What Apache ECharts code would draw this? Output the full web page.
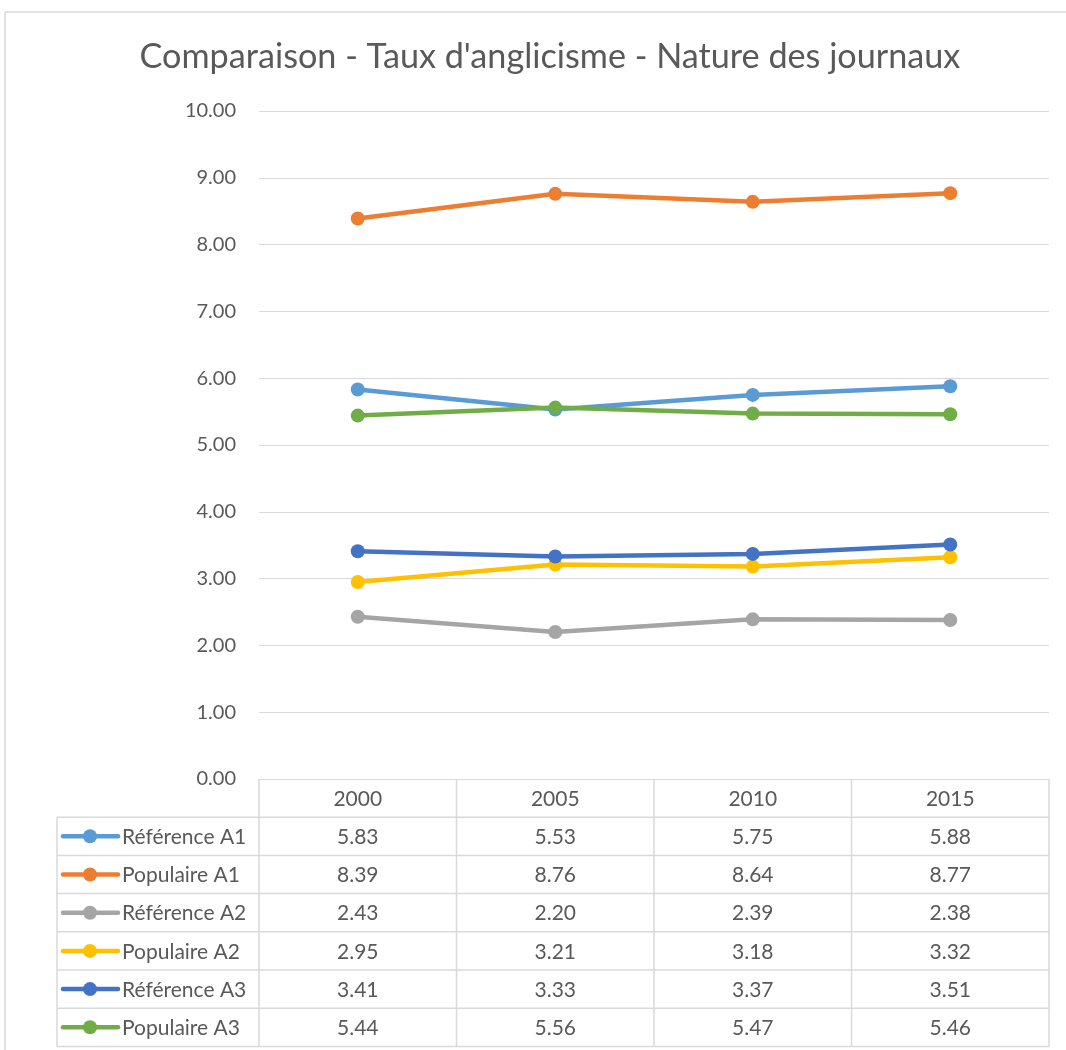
<!DOCTYPE html>
<html><head><meta charset="utf-8">
<script src="https://cdn.jsdelivr.net/npm/echarts@6/dist/echarts.min.js"></script>
<style>html,body{margin:0;padding:0;background:#fff}#c{width:1066px;height:1050px}</style>
</head><body><div id="c"></div>
<script>
const titleText = "Comparaison - Taux d'anglicisme - Nature des journaux";
const years = ["2000", "2005", "2010", "2015"];
const seriesNames = ["Référence A1", "Populaire A1", "Référence A2", "Populaire A2", "Référence A3", "Populaire A3"];
const referenceA1 = [5.83, 5.53, 5.75, 5.88];
const populaireA1 = [8.39, 8.76, 8.64, 8.77];
const referenceA2 = [2.43, 2.20, 2.39, 2.38];
const populaireA2 = [2.95, 3.21, 3.18, 3.32];
const referenceA3 = [3.41, 3.33, 3.37, 3.51];
const populaireA3 = [5.44, 5.56, 5.47, 5.46];
const yTicks = { min: 0, max: 10, interval: 1 };

const seriesData = [referenceA1, populaireA1, referenceA2, populaireA2, referenceA3, populaireA3];
const colors = ['#5B9BD5', '#ED7D31', '#A5A5A5', '#FFC000', '#4472C4', '#70AD47'];
const FONT = 'Lato, "Open Sans", sans-serif';
const TXT = '#595959';
const GRIDC = '#D9D9D9';

const chart = echarts.init(document.getElementById('c'), null, { renderer: 'canvas' });
chart.setOption({
  animation: false,
  backgroundColor: '#fff',
  color: colors,
  title: {
    text: titleText, left: 545, top: 35, textAlign: 'center',
    textStyle: { fontFamily: FONT, fontSize: 34.2, fontWeight: 'normal', color: TXT }
  },
  legend: { show: false },
  grid: { left: 259, top: 111, width: 790, height: 668, containLabel: false },
  xAxis: {
    type: 'category', data: years, boundaryGap: true,
    axisLine: { show: true, lineStyle: { color: GRIDC, width: 1 } },
    axisTick: { show: false }, axisLabel: { show: false }, splitLine: { show: false }
  },
  yAxis: {
    type: 'value', min: yTicks.min, max: yTicks.max, interval: yTicks.interval,
    axisLine: { show: false }, axisTick: { show: false },
    axisLabel: { formatter: v => v.toFixed(2), fontFamily: FONT, fontSize: 20, color: TXT, margin: 23 },
    splitLine: { lineStyle: { color: GRIDC, width: 1 } }
  },
  series: seriesNames.map((n, i) => ({
    name: n, type: 'line', data: seriesData[i],
    symbol: 'circle', symbolSize: 14,
    lineStyle: { width: 4.5, color: colors[i] },
    itemStyle: { color: colors[i] }
  }))
});

// Build data table from axis scale
const x0 = chart.convertToPixel({ xAxisIndex: 0 }, years[0]);
const x1 = chart.convertToPixel({ xAxisIndex: 0 }, years[1]);
const band = x1 - x0;
const yBase = chart.convertToPixel({ yAxisIndex: 0 }, yTicks.min);
const rowH = 38.2;
const legendLeft = 57;
const gridLeft = x0 - band / 2;
const gridRight = chart.convertToPixel({ xAxisIndex: 0 }, years[years.length - 1]) + band / 2;
const nRows = seriesNames.length;
const TF = '21px ' + FONT;
const g = [];
const line = (xa, ya, xb, yb) => g.push({ type: 'line', shape: { x1: xa, y1: ya, x2: xb, y2: yb }, style: { stroke: GRIDC, lineWidth: 1.5 }, silent: true });
// chart frame
line(5, 12, 1066, 12);
line(5, 12, 5, 1050);
// header row
line(gridLeft, yBase + rowH, gridRight, yBase + rowH);
for (let c = 0; c <= years.length; c++) {
  const xx = gridLeft + c * band;
  line(xx, yBase, xx, yBase + rowH * (nRows + 1));
}
years.forEach((y, c) => {
  g.push({ type: 'text', x: chart.convertToPixel({ xAxisIndex: 0 }, y), y: yBase + rowH / 2 + 1,
    style: { text: y, fill: TXT, font: TF, align: 'center', verticalAlign: 'middle' }, silent: true });
});
// body rows
line(legendLeft, yBase + rowH, gridLeft, yBase + rowH);
line(legendLeft, yBase + rowH, legendLeft, yBase + rowH * (nRows + 1));
for (let r = 0; r < nRows; r++) {
  const top = yBase + rowH * (r + 1);
  const cy = top + rowH / 2;
  line(legendLeft, top + rowH, gridRight, top + rowH);
  g.push({ type: 'line', shape: { x1: legendLeft + 6, y1: cy, x2: legendLeft + 61, y2: cy },
    style: { stroke: colors[r], lineWidth: 4.5, lineCap: 'round' }, silent: true });
  g.push({ type: 'circle', shape: { cx: legendLeft + 33, cy: cy, r: 7 }, style: { fill: colors[r] }, silent: true });
  g.push({ type: 'text', x: legendLeft + 65, y: cy + 1,
    style: { text: seriesNames[r], fill: TXT, font: TF, align: 'left', verticalAlign: 'middle' }, silent: true });
  seriesData[r].forEach((v, c) => {
    g.push({ type: 'text', x: chart.convertToPixel({ xAxisIndex: 0 }, years[c]), y: cy + 1,
      style: { text: v.toFixed(2), fill: TXT, font: TF, align: 'center', verticalAlign: 'middle' }, silent: true });
  });
}
chart.setOption({ graphic: { elements: g } });
</script></body></html>
